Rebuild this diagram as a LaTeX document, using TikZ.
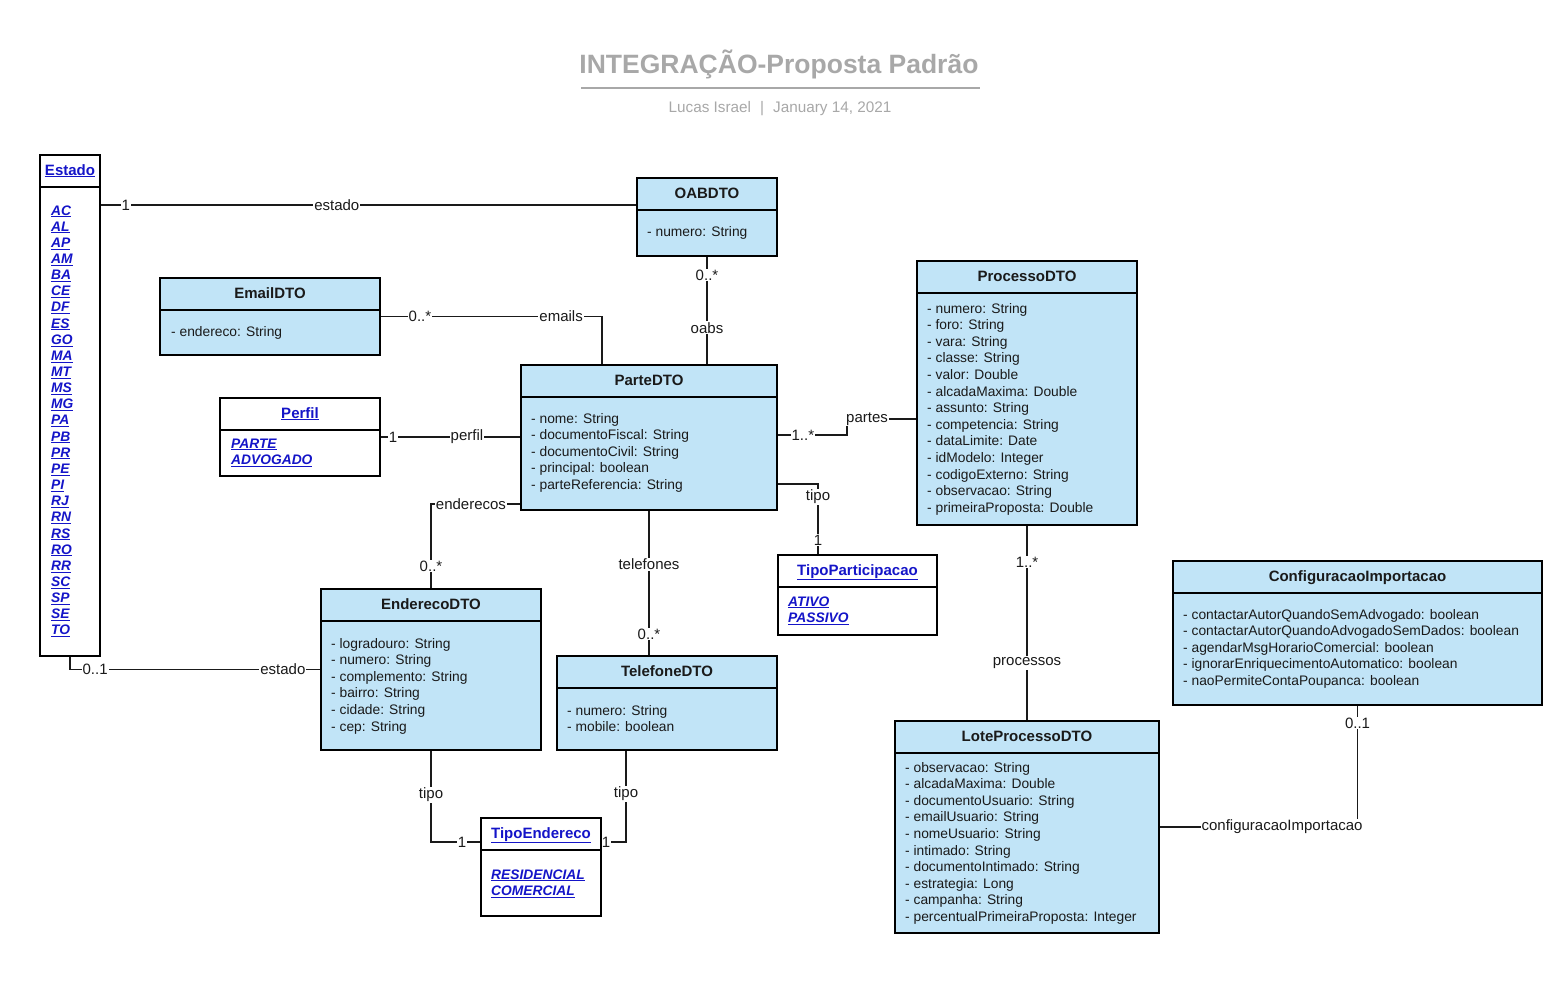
\documentclass[tikz,border=0pt]{standalone}
\usepackage{fontspec}
\setmainfont{Liberation Sans}
\usetikzlibrary{calc,backgrounds}
\definecolor{umlblue}{RGB}{193,228,247}
\definecolor{linkblue}{RGB}{20,20,200}
\definecolor{titlegray}{RGB}{168,168,168}
\definecolor{txtcol}{RGB}{26,26,26}
\tikzset{
 classbox/.style={draw=black, line width=2pt, fill=umlblue, inner sep=0pt, outer sep=0pt, anchor=north west},
 enumbox/.style={classbox, fill=white},
 divline/.style={draw=black, line width=2pt},
 ctitle/.style={font=\fontsize{15}{18}\selectfont\bfseries, anchor=base, inner sep=0pt, text=txtcol},
 etitle/.style={ctitle, text=linkblue},
 attr/.style={font=\fontsize{13.8}{16.6}\selectfont, anchor=base west, inner sep=0pt, text=txtcol},
 eitem/.style={font=\fontsize{13.8}{16.6}\selectfont\bfseries\itshape, anchor=base west, inner sep=0pt, text=linkblue},
 conn/.style={draw=txtcol, line width=1.5pt},
 lab/.style={fill=white, inner sep=1pt, font=\fontsize{15}{18}\selectfont, text=txtcol},
}
\newcommand{\umlbox}[8]{%
  \node[#6, minimum width=#4pt, minimum height=#5pt] (#1) at (#2,#3) {};
  \draw[divline] ($(#1.north west)+(0,32)$) -- ($(#1.north east)+(0,32)$);
  \node[#7] (#1-t) at ($(#1.north)+(0,20)$) {#8};
}
\begin{document}
\begin{tikzpicture}[x=1pt,y=-1pt]
\useasboundingbox (0,0) rectangle (1556,982);

% title
\node[font=\fontsize{26.5}{30}\selectfont\bfseries, text=titlegray, anchor=base, inner sep=0pt] (title) at (779,74) {INTEGRAÇÃO-Proposta Padrão};
\draw[titlegray, line width=2pt] ($(title.base)+(-198,14)$) coordinate (tl) -- ($(title.base)+(201,14)$) coordinate (tr);
\node[font=\fontsize{15.3}{18}\selectfont, text=titlegray, anchor=base, inner sep=0pt] (subtitle) at (780,113) {Lucas Israel\hspace{9pt}|\hspace{9pt}January 14, 2021};

% boxes
\umlbox{estado}{40}{155}{60}{501}{enumbox}{etitle}{\underline{Estado}}
\foreach \t [count=\i from 0] in {AC,AL,AP,AM,BA,CE,DF,ES,GO,MA,MT,MS,MG,PA,PB,PR,PE,PI,RJ,RN,RS,RO,RR,SC,SP,SE,TO}
  \node[eitem] (estado-a\i) at (51,215+\i*16.15) {\underline{\t}};

\umlbox{oab}{637}{178}{140}{78}{classbox}{ctitle}{OABDTO}
\node[attr] (oab-a0) at (647,236) {- numero: String};

\umlbox{email}{160}{278}{220}{77}{classbox}{ctitle}{EmailDTO}
\node[attr] (email-a0) at (171,336) {- endereco: String};

\umlbox{perfil}{220}{398}{160}{78}{enumbox}{etitle}{\underline{Perfil}}
\foreach \t [count=\i from 0] in {PARTE,ADVOGADO}
  \node[eitem] (perfil-a\i) at (231,448+\i*16.6) {\underline{\t}};

\umlbox{parte}{521}{365}{256}{145}{classbox}{ctitle}{ParteDTO}
\foreach \t [count=\i from 0] in {- nome: String,- documentoFiscal: String,- documentoCivil: String,- principal: boolean,- parteReferencia: String}
  \node[attr] (parte-a\i) at (531,423+\i*16.6) {\t};

\umlbox{processo}{917}{261}{220}{264}{classbox}{ctitle}{ProcessoDTO}
\foreach \t [count=\i from 0] in {- numero: String,- foro: String,- vara: String,- classe: String,- valor: Double,- alcadaMaxima: Double,- assunto: String,- competencia: String,- dataLimite: Date,- idModelo: Integer,- codigoExterno: String,- observacao: String,- primeiraProposta: Double}
  \node[attr] (processo-a\i) at (927,313+\i*16.6) {\t};

\umlbox{tipopart}{778}{555}{159}{80}{enumbox}{etitle}{\underline{TipoParticipacao}}
\foreach \t [count=\i from 0] in {ATIVO,PASSIVO}
  \node[eitem] (tipopart-a\i) at (788,606+\i*16.6) {\underline{\t}};

\umlbox{endereco}{321}{589}{220}{161}{classbox}{ctitle}{EnderecoDTO}
\foreach \t [count=\i from 0] in {- logradouro: String,- numero: String,- complemento: String,- bairro: String,- cidade: String,- cep: String}
  \node[attr] (endereco-a\i) at (331,648+\i*16.6) {\t};

\umlbox{telefone}{557}{656}{220}{94}{classbox}{ctitle}{TelefoneDTO}
\foreach \t [count=\i from 0] in {- numero: String,- mobile: boolean}
  \node[attr] (telefone-a\i) at (567,715+\i*16.6) {\t};

\umlbox{tipoend}{481}{818}{120}{98}{enumbox}{etitle}{\underline{TipoEndereco}}
\foreach \t [count=\i from 0] in {RESIDENCIAL,COMERCIAL}
  \node[eitem] (tipoend-a\i) at (491,879+\i*16.6) {\underline{\t}};

\umlbox{config}{1173}{561}{369}{144}{classbox}{ctitle}{ConfiguracaoImportacao}
\foreach \t [count=\i from 0] in {- contactarAutorQuandoSemAdvogado: boolean,- contactarAutorQuandoAdvogadoSemDados: boolean,- agendarMsgHorarioComercial: boolean,- ignorarEnriquecimentoAutomatico: boolean,- naoPermiteContaPoupanca: boolean}
  \node[attr] (config-a\i) at (1183,619+\i*16.6) {\t};

\umlbox{lote}{895}{721}{264}{212}{classbox}{ctitle}{LoteProcessoDTO}
\foreach \t [count=\i from 0] in {- observacao: String,- alcadaMaxima: Double,- documentoUsuario: String,- emailUsuario: String,- nomeUsuario: String,- intimado: String,- documentoIntimado: String,- estrategia: Long,- campanha: String,- percentualPrimeiraProposta: Integer}
  \node[attr] (lote-a\i) at (905,772+\i*16.6) {\t};

% connectors
\begin{scope}[on background layer]
\fill[white] (0,0) rectangle (1556,982);
\coordinate (oabline) at ($(oab.north west)+(0,27)$);
\draw[conn] (estado.east |- oabline) -- node[lab,pos=.048]{1} node[lab,pos=.441]{estado} (oabline);
\draw[conn] (email.east) -| node[lab,pos=.09]{0..*} node[lab,pos=.408]{emails} ($(parte.north west)+(81,0)$);
\draw[conn] (oab.south) -- node[lab,pos=.174]{0..*} node[lab,pos=.66]{oabs} (oab.south |- parte.north);
\draw[conn] (perfil.east) -- node[lab,pos=.092]{1} node[lab,pos=.617]{perfil} (perfil.east -| parte.west);
\draw[conn] ($(parte.north east)+(0,70)$) -- node[lab,pos=.37]{1..*} ++(70,0) |- node[lab,pos=.643]{partes} ($(processo.north west)+(0,158)$);
\draw[conn] ($(parte.north east)+(0,119)$) -| node[lab,pos=.59]{tipo} node[lab,pos=.894]{1} ($(tipopart.north west)+(40,0)$);
\draw[conn] ($(parte.south west)+(0,-6)$) -| node[lab,pos=.278]{enderecos} node[lab,pos=.865]{0..*} (endereco.north);
\draw[conn] (parte.south) -- node[lab,pos=.37]{telefones} node[lab,pos=.849]{0..*} (parte.south |- telefone.north);
\draw[conn] (estado.south) |- node[lab,pos=.55]{0..1} node[lab,pos=.924]{estado} (endereco.west);
\draw[conn] (endereco.south) |- node[lab,pos=.245]{tipo} node[lab,pos=.81]{1} ($(tipoend.north west)+(0,24)$);
\draw[conn] ($(telefone.south west)+(69,0)$) |- node[lab,pos=.239]{tipo} node[lab,pos=.9]{1} ($(tipoend.north east)+(0,24)$);
\draw[conn] (processo.south) -- node[lab,pos=.189]{1..*} node[lab,pos=.704]{processos} (lote.north);
\draw[conn] (lote.east) -| node[lab,pos=.31]{configuracaoImportacao} node[lab,pos=.926]{0..1} (config.south);
\end{scope}
\end{tikzpicture}
\end{document}
